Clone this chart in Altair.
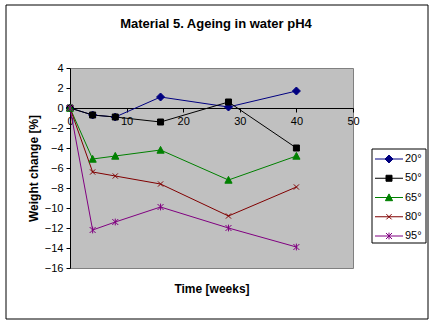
import altair as alt
import pandas as pd

weeks = [0, 4, 8, 16, 28, 40]
series_names = ["20°", "50°", "65°", "80°", "95°"]
w20 = [0, -0.7, -0.9, 1.1, 0.1, 1.7]
w50 = [0, -0.7, -0.9, -1.4, 0.6, -4.0]
w65 = [0, -5.1, -4.8, -4.2, -7.2, -4.8]
w80 = [0, -6.4, -6.8, -7.6, -10.8, -7.9]
w95 = [0, -12.2, -11.4, -9.9, -12.0, -13.9]
x_ticks = [0, 10, 20, 30, 40, 50]
y_ticks = [-16, -14, -12, -10, -8, -6, -4, -2, 0, 2, 4]
chart_title = ["Material 5. Ageing in water pH4"]

colors = ["#000080", "#000000", "#008000", "#800000", "#800080"]
marker_paths = [
    "M0,-1L1,0L0,1L-1,0Z",
    "M-0.75,-0.75H0.75V0.75H-0.75Z",
    "M0,-0.9L0.9,0.8H-0.9Z",
    "M-0.65,-0.65L0.65,0.65M-0.65,0.65L0.65,-0.65",
    "M-0.75,-0.75L0.75,0.75M-0.75,0.75L0.75,-0.75M0,-0.85V0.85",
]

rows = []
for name, vals in zip(series_names, [w20, w50, w65, w80, w95]):
    for t, v in zip(weeks, vals):
        rows.append({"week": t, "change": v, "series": name})
df = pd.DataFrame(rows)
legend_df = pd.DataFrame({"series": series_names})

FONT = "Liberation Sans"

x_enc = alt.X(
    "week:Q",
    scale=alt.Scale(domain=[0, 50], nice=False, zero=False),
    axis=alt.Axis(
        values=x_ticks, offset=-160, grid=False, title="Time [weeks]",
        titleY=180, titleBaseline="middle", titleFont=FONT, titleFontSize=12,
        titleFontWeight="bold", titleColor="black",
        labelFont=FONT, labelFontSize=11, labelColor="black", labelFlush=False,
        labelOverlap=False, labelPadding=3, tickSize=4, tickColor="black",
        domainColor="black", domainWidth=1, tickWidth=1,
    ),
)
y_enc = alt.Y(
    "change:Q",
    scale=alt.Scale(domain=[-16, 4], nice=False, zero=False),
    axis=alt.Axis(
        values=y_ticks, grid=False, title="Weight change [%]",
        titleX=-37, titleY=100, titleBaseline="middle", titleAlign="center",
        titleAngle=270, titleFont=FONT, titleFontSize=12, titleFontWeight="bold",
        titleColor="black",
        labelFont=FONT, labelFontSize=11, labelColor="black", labelFlush=False,
        labelOverlap=False, labelPadding=3, tickSize=4, tickColor="black",
        domainColor="black", domainWidth=1, tickWidth=1,
    ),
)

color_scale = alt.Scale(domain=series_names, range=colors)
shape_scale = alt.Scale(domain=series_names, range=marker_paths)

lines = alt.Chart(df).mark_line(strokeWidth=1).encode(
    x=x_enc, y=y_enc,
    color=alt.Color("series:N", scale=color_scale, legend=None),
    order="week:Q",
)

points = alt.Chart(df).mark_point(size=64, opacity=1, strokeWidth=1, filled=False).encode(
    x=x_enc, y=y_enc,
    color=alt.Color("series:N", scale=color_scale, legend=None),
    fill=alt.Fill("series:N", scale=color_scale, legend=None),
    shape=alt.Shape("series:N", scale=shape_scale, legend=None),
)

main = alt.layer(lines, points)

frame = alt.Chart(pd.DataFrame({"k": [0]})).mark_rect(
    fillOpacity=0, stroke="black", strokeWidth=1
).encode(
    x=alt.value(-64), x2=alt.value(358), y=alt.value(-63), y2=alt.value(251)
)

title_txt = alt.Chart(pd.DataFrame({"t": chart_title})).mark_text(
    align="center", baseline="middle", font=FONT, fontSize=13,
    fontWeight="bold", color="black"
).encode(x=alt.value(146), y=alt.value(-44), text="t:N")

# legend (drawn as marks)
leg_y = alt.Y("series:N", scale=alt.Scale(type="point", domain=series_names, range=[91, 168], padding=0), axis=None)
leg_box = alt.Chart(pd.DataFrame({"k": [0]})).mark_rect(
    fill="white", stroke="black", strokeWidth=1
).encode(
    x=alt.value(302), x2=alt.value(356), y=alt.value(81), y2=alt.value(175)
)
leg_rule = alt.Chart(legend_df).mark_rule(strokeWidth=1).encode(
    x=alt.value(305), x2=alt.value(333), y=leg_y,
    color=alt.Color("series:N", scale=color_scale, legend=None),
)
leg_pt = alt.Chart(legend_df).mark_point(size=64, opacity=1, strokeWidth=1, filled=False).encode(
    x=alt.value(319), y=leg_y,
    color=alt.Color("series:N", scale=color_scale, legend=None),
    fill=alt.Fill("series:N", scale=color_scale, legend=None),
    shape=alt.Shape("series:N", scale=shape_scale, legend=None),
)
leg_txt = alt.Chart(legend_df).mark_text(
    align="left", baseline="middle", font=FONT, fontSize=11, color="black"
).encode(
    x=alt.value(335), y=leg_y, text="series:N",
)

legend_layer = alt.layer(leg_box, leg_rule, leg_pt, leg_txt)

chart = alt.layer(main, frame, title_txt, legend_layer).resolve_scale(
    y="independent"
).properties(
    width=283, height=200,
    autosize=alt.AutoSizeParams(type="none"),
    padding={"left": 70, "top": 68, "right": 83, "bottom": 57},
    background="white",
).configure_view(fill="#C0C0C0", stroke="#808080", strokeWidth=1)

chart.save("out.html", embed_options={"renderer": "svg", "actions": False})
